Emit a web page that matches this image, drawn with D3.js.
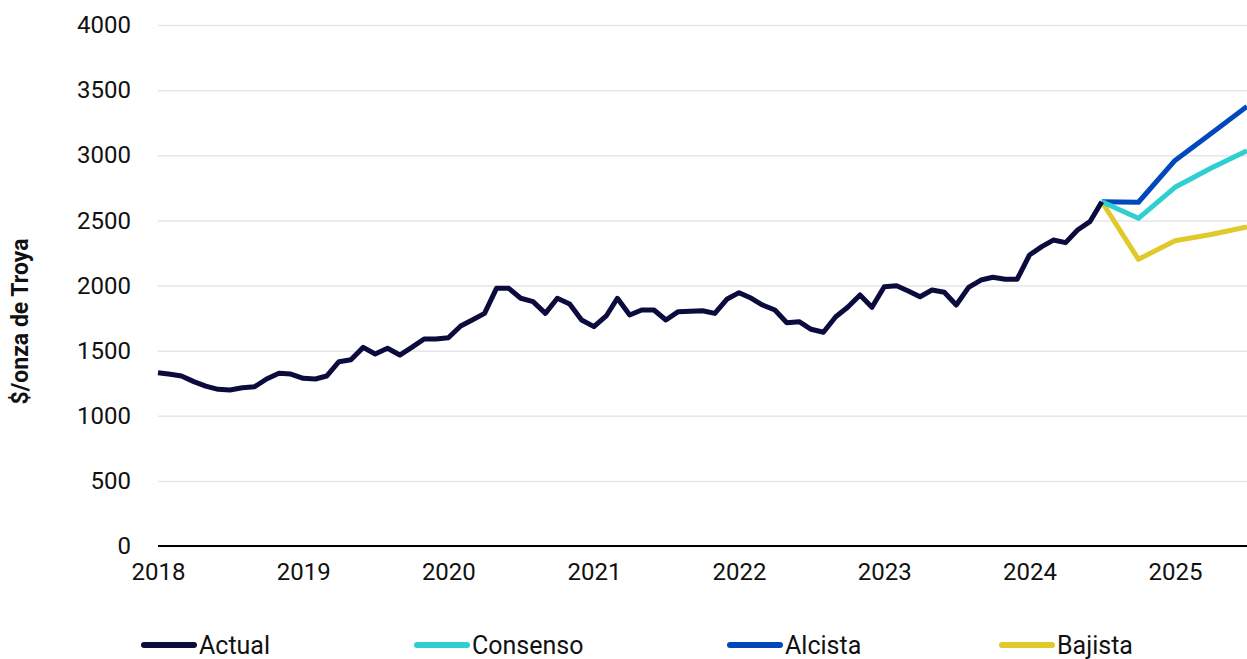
<!DOCTYPE html>
<html>
<head>
<meta charset="utf-8">
<script src="https://cdn.jsdelivr.net/npm/d3@7"></script>
<style>
  body { margin: 0; background: #fff; }
  svg { display: block; font-family: Roboto, "Noto Sans", sans-serif; }
</style>
</head>
<body>
<div id="chart"></div>
<script>
// monthly gold price, Jan 2018 .. Jul 2024
var actualStart = "2018-01";
var actualValues = [
  1330, 1318, 1305, 1262, 1228, 1203, 1198, 1215, 1223, 1282, 1326, 1320,
  1287, 1282, 1305, 1415, 1430, 1525, 1474, 1518, 1466, 1525, 1589, 1589,
  1599, 1689, 1735, 1786, 1978, 1978, 1902, 1876, 1786, 1902, 1858, 1735,
  1684, 1766, 1902, 1773, 1812, 1812, 1735, 1799, 1802, 1806, 1786, 1894,
  1945, 1902, 1850, 1812, 1714, 1722, 1664, 1641, 1760, 1833, 1927, 1833,
  1991, 1998, 1960, 1914, 1965, 1948, 1850, 1986, 2042, 2063, 2048, 2048,
  2234, 2298, 2349, 2329, 2426, 2490, 2643
];

// quarterly scenarios
var forecastDates = ["2024-07", "2024-10", "2025-01", "2025-04", "2025-07"];
var consensoValues = [2643, 2516, 2754, 2900, 3035];
var alcistaValues  = [2643, 2639, 2960, 3165, 3375];
var bajistaValues  = [2643, 2201, 2344, 2392, 2450];

var seriesNames  = ["Actual", "Consenso", "Alcista", "Bajista"];
var seriesColors = ["#0c0b3e", "#2fcfd1", "#0148bd", "#e0c92b"];

var yTicks = [0, 500, 1000, 1500, 2000, 2500, 3000, 3500, 4000];
var xTickYears = [2018, 2019, 2020, 2021, 2022, 2023, 2024, 2025];
var yTitle = "$/onza de Troya";

var W = 1247, H = 659;
var margin = {left: 158, right: 1247, top: 25, bottom: 546};

var parseMonth = d3.timeParse("%Y-%m");
var start = parseMonth(actualStart);

var actual = actualValues.map(function(v, i) {
  return { date: d3.timeMonth.offset(start, i), value: v };
});
function toSeries(vals) {
  return vals.map(function(v, i) { return { date: parseMonth(forecastDates[i]), value: v }; });
}
var series = [
  { name: seriesNames[0], data: actual },
  { name: seriesNames[1], data: toSeries(consensoValues) },
  { name: seriesNames[2], data: toSeries(alcistaValues) },
  { name: seriesNames[3], data: toSeries(bajistaValues) }
];

var color = d3.scaleOrdinal().domain(seriesNames).range(seriesColors);

var x = d3.scaleTime()
  .domain([parseMonth("2018-01"), parseMonth("2025-07")])
  .range([margin.left, margin.right]);
var y = d3.scaleLinear().domain([0, 4000]).range([margin.bottom, margin.top]);

var svg = d3.select("#chart").append("svg")
  .attr("width", W).attr("height", H);

svg.append("defs").append("clipPath").attr("id", "plot")
  .append("rect").attr("x", margin.left - 5).attr("y", 0)
  .attr("width", margin.right - margin.left + 5).attr("height", H);

// gridlines + y labels
var yAxis = d3.axisLeft(y).tickValues(yTicks).tickFormat(d3.format("d"))
  .tickSize(-(margin.right - margin.left)).tickPadding(27);
svg.append("g").attr("class", "y axis")
  .attr("transform", "translate(" + margin.left + ",0)")
  .call(yAxis)
  .call(function(g) {
    g.select(".domain").remove();
    g.selectAll(".tick line").attr("stroke", "#e6e6e6").attr("stroke-width", 1.5);
    g.selectAll(".tick text").attr("font-size", 24).attr("fill", "#111").attr("font-family", "Roboto");
  });

// x axis
var xAxis = d3.axisBottom(x)
  .tickValues(xTickYears.map(function(yr) { return new Date(yr, 0, 1); }))
  .tickFormat(d3.timeFormat("%Y"))
  .tickSize(0).tickPadding(17);
svg.append("g").attr("class", "x axis")
  .attr("transform", "translate(0," + margin.bottom + ")")
  .call(xAxis)
  .call(function(g) {
    g.select(".domain").remove();
    g.selectAll(".tick text").attr("font-size", 24).attr("fill", "#111").attr("font-family", "Roboto");
  });

svg.append("line")
  .attr("x1", margin.left).attr("x2", margin.right)
  .attr("y1", y(0)).attr("y2", y(0))
  .attr("stroke", "#000").attr("stroke-width", 2);

// y title
svg.append("text")
  .attr("transform", "translate(28," + ((margin.top + margin.bottom) / 2 + 36) + ") rotate(-90)")
  .attr("text-anchor", "middle")
  .attr("font-size", 23).attr("font-weight", "bold").attr("fill", "#111")
  .text(yTitle);

// lines
var line = d3.line()
  .x(function(d) { return x(d.date); })
  .y(function(d) { return y(d.value); });

svg.append("g").attr("clip-path", "url(#plot)")
  .selectAll("path.series")
  .data(series.slice().reverse())
  .enter().append("path")
  .attr("class", "series")
  .attr("fill", "none")
  .attr("stroke", function(d) { return color(d.name); })
  .attr("stroke-width", 5)
  .attr("stroke-linejoin", "round")
  .attr("d", function(d) { return line(d.data); });

// legend
var legendX = [142, 415, 728, 1000];
var legend = svg.selectAll("g.legend")
  .data(seriesNames)
  .enter().append("g")
  .attr("class", "legend")
  .attr("transform", function(d, i) { return "translate(" + legendX[i] + ",645)"; });

legend.append("line")
  .attr("x1", 2).attr("x2", 52)
  .attr("stroke", function(d) { return color(d); })
  .attr("stroke-width", 6)
  .attr("stroke-linecap", "round");

legend.append("text")
  .attr("x", 57).attr("y", 9)
  .attr("font-size", 25).attr("fill", "#111")
  .text(function(d) { return d; });
</script>
</body>
</html>
